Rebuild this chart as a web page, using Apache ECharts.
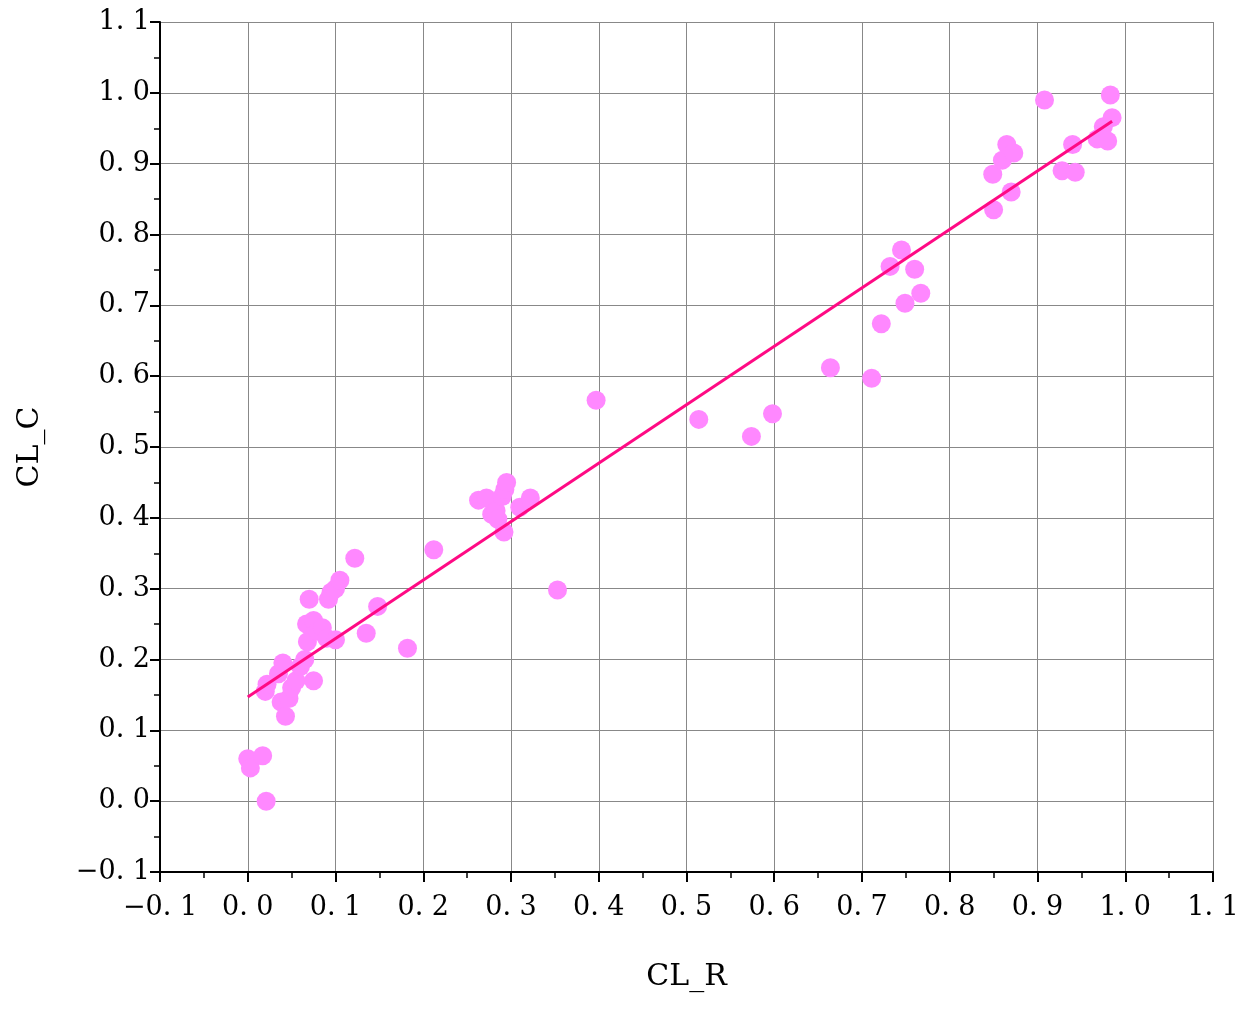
<!DOCTYPE html><html><head><meta charset="utf-8"><script src="https://cdn.jsdelivr.net/npm/echarts@6/dist/echarts.min.js"></script></head><body style="margin:0"><div id="c" style="width:1253px;height:1010px"></div><script>
const xs=[0.0,0.003,0.017,0.021,0.02,0.022,0.035,0.04,0.038,0.043,0.047,0.05,0.055,0.06,0.065,0.068,0.07,0.067,0.075,0.075,0.08,0.085,0.09,0.092,0.095,0.1,0.1,0.105,0.122,0.135,0.148,0.182,0.212,0.263,0.272,0.278,0.283,0.285,0.29,0.293,0.295,0.292,0.31,0.322,0.353,0.397,0.514,0.574,0.598,0.664,0.711,0.722,0.732,0.745,0.749,0.76,0.767,0.849,0.85,0.86,0.865,0.87,0.873,0.908,0.928,0.94,0.943,0.968,0.975,0.98,0.983,0.985];
const ys=[0.06,0.047,0.064,0.0,0.155,0.165,0.18,0.195,0.14,0.12,0.145,0.16,0.17,0.19,0.2,0.225,0.285,0.25,0.17,0.255,0.24,0.245,0.23,0.285,0.295,0.3,0.228,0.312,0.343,0.237,0.275,0.216,0.355,0.425,0.428,0.405,0.41,0.398,0.43,0.44,0.45,0.38,0.415,0.428,0.298,0.566,0.539,0.515,0.547,0.612,0.597,0.674,0.755,0.778,0.703,0.751,0.717,0.885,0.835,0.905,0.927,0.86,0.915,0.99,0.89,0.927,0.888,0.935,0.952,0.932,0.997,0.965];
const fitX=[0.0,0.985], fitY=[0.147,0.96];
const font='DejaVu Serif';
function ax(name,gap,margin){return {type:'value',min:-0.1,max:1.1,interval:0.1,name:name,nameLocation:'middle',nameGap:gap,
nameTextStyle:{fontFamily:font,fontSize:30,color:'#000'},
axisLine:{show:true,onZero:false,lineStyle:{color:'#000',width:2}},
axisTick:{show:true,length:10,lineStyle:{color:'#000',width:2}},
minorTick:{show:true,splitNumber:2,length:6,lineStyle:{color:'#000',width:1.5}},
splitLine:{show:true,lineStyle:{color:'#888',width:1}},
axisLabel:{fontFamily:font,fontSize:27,color:'#000',margin:margin,formatter:v=>v.toFixed(1).replace('.','. ').replace('-','−')}};}
const x=ax('CL_R',90,22), y=ax('CL_C',115,10);
const ch=echarts.init(document.getElementById('c'));
ch.setOption({animation:false,grid:{left:160,right:40,top:22,bottom:138},xAxis:x,yAxis:y,
series:[{type:'scatter',data:xs.map((v,i)=>[v,ys[i]]),symbolSize:19,itemStyle:{color:'#ff88ff',opacity:1}},
{type:'line',data:fitX.map((v,i)=>[v,fitY[i]]),symbol:'none',lineStyle:{color:'#ff0a84',width:3}}]});
</script></body></html>
